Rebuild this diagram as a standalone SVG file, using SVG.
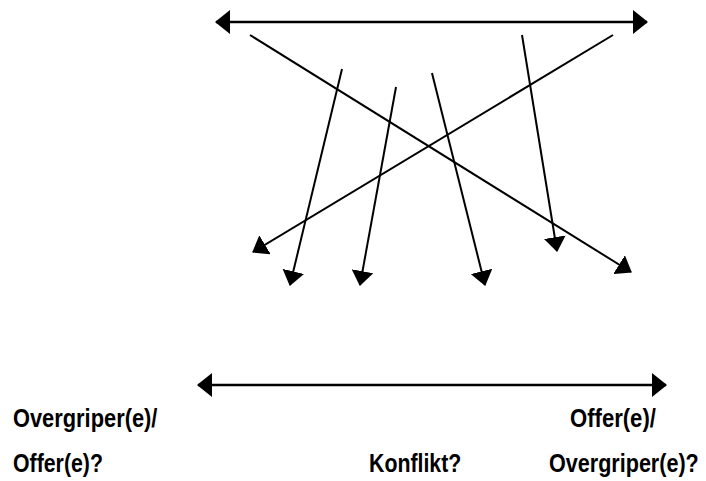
<svg xmlns="http://www.w3.org/2000/svg" width="706" height="481" viewBox="0 0 706 481">
<style>
.ln{stroke:#000;stroke-width:2;fill:none}
.hl{stroke:#000;stroke-width:2.5;fill:none}
.t{font-family:"Liberation Sans Narrow","Liberation Sans",Arial,sans-serif;font-weight:bold;font-size:26px;fill:#000}
</style>
<defs>
<marker id="ah" viewBox="0 -12 15 24" refX="14" refY="0" markerWidth="15" markerHeight="24" markerUnits="userSpaceOnUse" orient="auto-start-reverse">
<path d="M0,-12 L15,0 L0,12 z" fill="#000"/>
</marker>
<marker id="ad" viewBox="0 -11 15 22" refX="14" refY="0" markerWidth="15" markerHeight="22" markerUnits="userSpaceOnUse" orient="auto">
<path d="M0,-11 L15,0 L0,11 z" fill="#000"/>
</marker>
</defs>
<g id="connectors">
<line class="hl" x1="216" y1="22" x2="647" y2="22" marker-start="url(#ah)" marker-end="url(#ah)"/>
<line class="hl" x1="198" y1="385" x2="666" y2="385" marker-start="url(#ah)" marker-end="url(#ah)"/>
<line class="ln" x1="250" y1="35" x2="631" y2="272" marker-end="url(#ad)"/>
<line class="ln" x1="613" y1="35" x2="253" y2="252" marker-end="url(#ad)"/>
<line class="ln" x1="342" y1="69" x2="290" y2="285" marker-end="url(#ad)"/>
<line class="ln" x1="396" y1="87" x2="360" y2="285" marker-end="url(#ad)"/>
<line class="ln" x1="432" y1="73" x2="485" y2="285" marker-end="url(#ad)"/>
<line class="ln" x1="522" y1="35" x2="557" y2="251" marker-end="url(#ad)"/>
</g>
<g id="label-left">
<text class="t" transform="translate(13,427) scale(0.84,1)">Overgriper(e)/</text>
<text class="t" transform="translate(13,472) scale(0.82,1)">Offer(e)?</text>
</g>
<g id="label-middle">
<text class="t" transform="translate(369,472) scale(0.82,1)">Konflikt?</text>
</g>
<g id="label-right">
<text class="t" transform="translate(570,427) scale(0.85,1)">Offer(e)/</text>
<text class="t" transform="translate(549,472) scale(0.83,1)">Overgriper(e)?</text>
</g>
</svg>
